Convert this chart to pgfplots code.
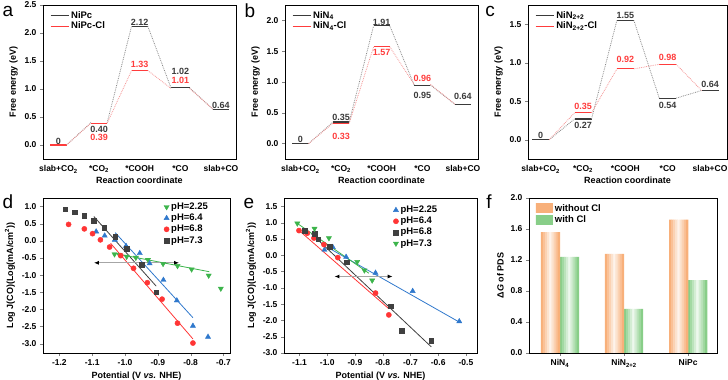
\documentclass[border=0pt]{standalone}
\usepackage{fontspec}
\setmainfont{Liberation Sans}
\usepackage{pgfplots}
\pgfplotsset{compat=1.18}
\usetikzlibrary{arrows.meta}

\definecolor{lvgray}{HTML}{3A3A3A}
\definecolor{lvred}{HTML}{FF3C3C}
\definecolor{dotgray}{HTML}{8A8A8A}
\definecolor{dotred}{HTML}{F49494}
\definecolor{cgreen}{HTML}{3CB44B}
\definecolor{cblue}{HTML}{2F78CC}
\definecolor{cred}{HTML}{FF3535}
\definecolor{cblack}{HTML}{404040}
\definecolor{barorange}{HTML}{F8B07A}
\definecolor{bargreen}{HTML}{88CE88}

\pgfplotsset{
  base/.style={
    scale only axis,
    font=\fontsize{9}{10}\selectfont\bfseries,
    tick label style={font=\fontsize{8.5}{10}\selectfont\bfseries},
    /pgf/number format/assume math mode=true,
    axis line style={line width=0.7pt},
    tick align=outside, tick pos=left,
    major tick length=3pt,
    legend cell align=left,
  },
  energy/.style={
    base,
    width=193pt, height=154pt,
    xmin=0.62, xmax=5.37, ymin=-0.25,
    xtick={1,2,3,4,5},
    xticklabels={slab+CO\textsubscript{2},*CO\textsubscript{2},*COOH,*CO,slab+CO},
    major x tick style={draw=none},
    xlabel={Reaction coordinate}, ylabel={Free energy (eV)},
    xlabel style={yshift=3pt},
    yticklabel style={/pgf/number format/.cd, fixed, fixed zerofill, precision=1},
    legend style={at={(0.02,0.985)}, anchor=north west, draw=none, fill=none,
      font=\fontsize{9.5}{10}\selectfont\bfseries, row sep=-2pt},
    legend image code/.code={\draw[##1] (0pt,0pt) -- (18pt,0pt);},
  },
  lvk/.style={lvgray, line width=1.1pt, unbounded coords=jump},
  lvr/.style={lvred, line width=1.1pt, unbounded coords=jump},
  dk/.style={dotgray, densely dotted, line width=0.8pt, forget plot, unbounded coords=jump},
  dr/.style={dotred, densely dotted, line width=0.8pt, forget plot, unbounded coords=jump},
  kin/.style={
    base,
    height=155pt,
    xlabel={Potential (V \textit{vs.} NHE)},
    ylabel={Log J(CO)(Log(mA/cm\textsuperscript{2}))},
    xticklabel style={/pgf/number format/.cd, fixed, fixed zerofill, precision=1},
    yticklabel style={/pgf/number format/.cd, fixed, fixed zerofill, precision=1},
    legend style={draw=none, fill=none, font=\fontsize{9.5}{10}\selectfont\bfseries, row sep=-1pt},
  },
  mg/.style={only marks, mark=triangle*, mark options={rotate=180, fill=cgreen, draw=cgreen}, mark size=3pt},
  mb/.style={only marks, mark=triangle*, mark options={fill=cblue, draw=cblue}, mark size=3pt},
  mr/.style={only marks, mark=*, mark options={fill=cred, draw=cred}, mark size=2.6pt},
  mk/.style={only marks, mark=square*, mark options={fill=cblack, draw=cblack}, mark size=2.3pt},
  dblarrow/.style={gray!70, line width=1.1pt, forget plot,
    {Latex[black,length=5pt,width=4pt]}-{Latex[black,length=5pt,width=4pt]}},
}

\begin{document}
\begin{tikzpicture}
\useasboundingbox (0,0) rectangle (728pt,380pt);

% ---------------- a ----------------
\begin{axis}[energy, at={(43pt,221pt)}, anchor=south west,
  ymax=2.5, ytick={0,0.5,1,1.5,2,2.5}]
\addplot[lvk] coordinates {(2.8,2.12)(3.2,2.12) (3.5,nan) (3.77,1.02)(4.23,1.02) (4.5,nan) (4.8,0.64)(5.2,0.64)};
\addlegendentry{NiPc}
\addplot[lvr] coordinates {(0.8,0)(1.2,0) (1.5,nan) (1.8,0.39)(2.2,0.39) (2.5,nan)
  (2.8,1.33)(3.2,1.33)};
\addlegendentry{NiPc-Cl}
\addplot[dk] coordinates {(1.2,0)(1.8,0.40) (2,nan) (2.2,0.40)(2.8,2.12) (3,nan)
  (3.2,2.12)(3.77,1.02) (4,nan) (4.23,1.02)(4.8,0.64)};
\addplot[dr] coordinates {(1.2,0)(1.8,0.39) (2,nan) (2.2,0.39)(2.8,1.33) (3,nan)
  (3.2,1.33)(3.77,1.01) (4,nan) (4.23,1.01)(4.8,0.64)};
\node[lvgray] at (axis cs:1,0.07) {0};
\node[lvgray] at (axis cs:2,0.27) {0.40};
\node[lvred] at (axis cs:2,0.13) {0.39};
\node[lvgray] at (axis cs:3,2.19) {2.12};
\node[lvred] at (axis cs:3,1.44) {1.33};
\node[lvgray] at (axis cs:4,1.32) {1.02};
\node[lvred] at (axis cs:4,1.16) {1.01};
\node[lvgray] at (axis cs:5,0.71) {0.64};
\end{axis}

% ---------------- b ----------------
\begin{axis}[energy, at={(285pt,221pt)}, anchor=south west,
  ymax=2.25, ytick={0,0.5,1,1.5,2}]
\addplot[lvk] coordinates {(0.8,0)(1.2,0) (1.5,nan) (1.8,0.35)(2.2,0.35) (2.5,nan)
  (2.8,1.91)(3.2,1.91) (3.5,nan) (3.8,0.95)(4.2,0.95) (4.5,nan) (4.8,0.64)(5.2,0.64)};
\addlegendentry{NiN\textsubscript{4}}
\addplot[lvr] coordinates {(1.8,0.33)(2.2,0.33) (2.5,nan) (2.8,1.57)(3.2,1.57)};
\addlegendentry{NiN\textsubscript{4}-Cl}
\addplot[dk] coordinates {(1.2,0)(1.8,0.35) (2,nan) (2.2,0.35)(2.8,1.91) (3,nan)
  (3.2,1.91)(3.8,0.95) (4,nan) (4.2,0.95)(4.8,0.64)};
\addplot[dr] coordinates {(1.2,0)(1.8,0.33) (2,nan) (2.2,0.33)(2.8,1.57) (3,nan)
  (3.2,1.57)(3.8,0.96) (4,nan) (4.2,0.96)(4.8,0.64)};
\node[lvgray] at (axis cs:1,0.06) {0};
\node[lvgray] at (axis cs:2,0.43) {0.35};
\node[lvred] at (axis cs:2,0.11) {0.33};
\node[lvgray] at (axis cs:3,1.97) {1.91};
\node[lvred] at (axis cs:3,1.48) {1.57};
\node[lvred] at (axis cs:4,1.06) {0.96};
\node[lvgray] at (axis cs:4,0.78) {0.95};
\node[lvgray] at (axis cs:5,0.76) {0.64};
\end{axis}

% ---------------- c ----------------
\begin{axis}[energy, at={(528pt,221pt)}, anchor=south west, width=199pt,
  xmin=0.7, xmax=5.4, ymax=1.75, ytick={0,0.5,1,1.5}]
\addplot[lvk] coordinates {(0.8,0)(1.2,0) (1.5,nan) (1.8,0.27)(2.2,0.27) (2.5,nan)
  (2.8,1.55)(3.2,1.55) (3.5,nan) (3.8,0.54)(4.2,0.54) (4.5,nan) (4.8,0.64)(5.2,0.64)};
\addlegendentry{NiN\textsubscript{2+2}}
\addplot[lvr] coordinates {(1.8,0.35)(2.2,0.35) (2.5,nan)
  (2.8,0.92)(3.2,0.92) (3.5,nan) (3.8,0.98)(4.2,0.98)};
\addlegendentry{NiN\textsubscript{2+2}-Cl}
\addplot[dk] coordinates {(1.2,0)(1.8,0.27) (2,nan) (2.2,0.27)(2.8,1.55) (3,nan)
  (3.2,1.55)(3.8,0.54) (4,nan) (4.2,0.54)(4.8,0.64)};
\addplot[dr] coordinates {(1.2,0)(1.8,0.35) (2,nan) (2.2,0.35)(2.8,0.92) (3,nan)
  (3.2,0.92)(3.8,0.98) (4,nan) (4.2,0.98)(4.8,0.64)};
\node[lvgray] at (axis cs:1,0.06) {0};
\node[lvred] at (axis cs:2,0.43) {0.35};
\node[lvgray] at (axis cs:2,0.19) {0.27};
\node[lvgray] at (axis cs:3,1.62) {1.55};
\node[lvred] at (axis cs:3,1.04) {0.92};
\node[lvred] at (axis cs:4,1.07) {0.98};
\node[lvgray] at (axis cs:4,0.45) {0.54};
\node[lvgray] at (axis cs:5,0.72) {0.64};
\end{axis}

% ---------------- d ----------------
\begin{axis}[kin, at={(43pt,27pt)}, anchor=south west, width=187pt,
  xmin=-1.25, xmax=-0.68, ymin=-3.27, ymax=1.25,
  xtick={-1.2,-1.1,-1.0,-0.9,-0.8,-0.7},
  ytick={-3,-2.5,-2,-1.5,-1,-0.5,0,0.5,1},
  legend style={at={(0.63,0.995)}, anchor=north west}]
\addplot[mg] coordinates {(-1.032,-0.39) (-1.017,-0.41) (-0.995,-0.46) (-0.967,-0.49)
  (-0.930,-0.55) (-0.884,-0.67) (-0.840,-0.73) (-0.797,-0.83) (-0.745,-1.01) (-0.708,-1.39)};
\addlegendentry{pH=2.25}
\addplot[mb] coordinates {(-1.088,0.27) (-1.062,0.15) (-1.031,0.03) (-0.997,-0.15)
  (-0.955,-0.36) (-0.925,-0.66) (-0.883,-1.14) (-0.842,-1.74) (-0.793,-2.48) (-0.747,-2.80)};
\addlegendentry{pH=6.4}
\addplot[mr] coordinates {(-1.172,0.48) (-1.124,0.35) (-1.099,0.21) (-1.075,0.03)
  (-1.047,-0.18) (-1.013,-0.43) (-0.974,-0.80) (-0.932,-1.22) (-0.887,-1.70) (-0.840,-2.40) (-0.793,-2.98)};
\addlegendentry{pH=6.8}
\addplot[mk] coordinates {(-1.182,0.92) (-1.153,0.83) (-1.124,0.73) (-1.095,0.58)
  (-1.064,0.39) (-1.030,0.13) (-0.994,-0.22) (-0.950,-0.70) (-0.905,-1.50)};
\addlegendentry{pH=7.3}
\addplot[cblack, line width=0.8pt, forget plot] coordinates {(-1.095,0.71) (-0.905,-1.32)};
\addplot[cblue, line width=0.8pt, forget plot] coordinates {(-1.030,0.24) (-0.793,-2.24)};
\addplot[cred, line width=0.8pt, forget plot] coordinates {(-1.044,-0.07) (-0.793,-2.86)};
\addplot[cgreen, line width=0.8pt, forget plot] coordinates {(-1.035,-0.36) (-0.743,-0.90)};
\addplot[dblarrow] coordinates {(-1.095,-0.64) (-0.835,-0.64)};
\end{axis}

% ---------------- e ----------------
\begin{axis}[kin, at={(284pt,27pt)}, anchor=south west, width=193pt,
  xmin=-1.156, xmax=-0.46, ymin=-3.0, ymax=1.76,
  xtick={-1.1,-1.0,-0.9,-0.8,-0.7,-0.6,-0.5},
  ytick={-3,-2.5,-2,-1.5,-1,-0.5,0,0.5,1,1.5},
  legend style={at={(0.55,0.975)}, anchor=north west}]
\addplot[mb] coordinates {(-1.01,0.17) (-0.98,0.25) (-0.932,-0.05) (-0.826,-0.54)
  (-0.692,-1.10) (-0.524,-2.03)};
\addlegendentry{pH=2.25}
\addplot[mr] coordinates {(-1.102,0.76) (-1.072,0.68) (-1.048,0.53) (-1.012,0.33)
  (-0.962,-0.07) (-0.826,-1.16) (-0.778,-1.83)};
\addlegendentry{pH=6.4}
\addplot[mk] coordinates {(-1.082,0.76) (-1.046,0.67) (-1.032,0.49) (-0.992,0.27)
  (-0.930,-0.21) (-0.772,-1.56) (-0.731,-2.31) (-0.625,-2.62)};
\addlegendentry{pH=6.8}
\addplot[mg] coordinates {(-1.108,0.98) (-1.046,0.82) (-0.994,0.53) (-0.892,-0.20)
  (-0.866,-0.46) (-0.838,-0.77)};
\addlegendentry{pH=7.3}
\addplot[cblue, line width=0.8pt, forget plot] coordinates {(-1.00,0.25) (-0.524,-2.05)};
\addplot[cred, line width=0.8pt, forget plot] coordinates {(-1.10,0.75) (-0.778,-1.64)};
\addplot[cblack, line width=0.8pt, forget plot] coordinates {(-1.058,0.67) (-0.625,-2.81)};
\addplot[cgreen, line width=0.8pt, forget plot] coordinates {(-1.108,0.98) (-0.85,-0.55)};
\addplot[dblarrow] coordinates {(-0.974,-0.65) (-0.764,-0.65)};
\end{axis}

% ---------------- f ----------------
% each bar is built from 9 narrow strips, so it fades to white in the middle
\begin{axis}[base, at={(529pt,27pt)}, anchor=south west, width=188pt, height=155pt,
  xmin=-0.483, xmax=2.45, ymin=0, ymax=2.0,
  xtick={0,1,2},
  xticklabels={NiN\textsubscript{4},NiN\textsubscript{2+2},NiPc},
  ytick={0,0.4,0.8,1.2,1.6,2.0},
  yticklabel style={/pgf/number format/.cd, fixed, fixed zerofill, precision=1},
  ylabel={Δ\textit{G} of PDS},
  legend style={at={(0.02,0.985)}, anchor=north west, draw=none, fill=none,
    font=\fontsize{9.5}{10}\selectfont\bfseries, row sep=-1pt}]
\addlegendimage{legend image code/.code={\path[draw=none, left color=barorange, middle color=barorange!15, right color=barorange] (0pt,-4pt) rectangle (17pt,5pt);}}
\addlegendentry{without Cl}
\addlegendimage{legend image code/.code={\path[draw=none, left color=bargreen, middle color=bargreen!15, right color=bargreen] (0pt,-4pt) rectangle (17pt,5pt);}}
\addlegendentry{with Cl}
\pgfplotsinvokeforeach{0,...,8}{
  \pgfmathsetmacro\shO{-0.296+(#1+0.5)*0.032889}
  \pgfmathsetmacro\shG{(#1+0.5)*0.032889}
  \pgfmathtruncatemacro\pct{15+85*abs(#1-4)/4}
  \edef\tmp{%
    \noexpand\addplot[ybar, bar width=0.037, bar shift=\shO, draw=none,
      fill=barorange!\pct!white, forget plot] coordinates {(0,1.56) (1,1.28) (2,1.72)};
    \noexpand\addplot[ybar, bar width=0.037, bar shift=\shG, draw=none,
      fill=bargreen!\pct!white, forget plot] coordinates {(0,1.24) (1,0.57) (2,0.94)};
  }\tmp
}
\end{axis}

% panel letters
\node[font=\fontsize{19}{20}\selectfont] at (8pt,369pt) {a};
\node[font=\fontsize{19}{20}\selectfont] at (250pt,369pt) {b};
\node[font=\fontsize{19}{20}\selectfont] at (490pt,369pt) {c};
\node[font=\fontsize{19}{20}\selectfont] at (8pt,178pt) {d};
\node[font=\fontsize{19}{20}\selectfont] at (249pt,177pt) {e};
\node[font=\fontsize{19}{20}\selectfont] at (489pt,178pt) {f};
\end{tikzpicture}
\end{document}
